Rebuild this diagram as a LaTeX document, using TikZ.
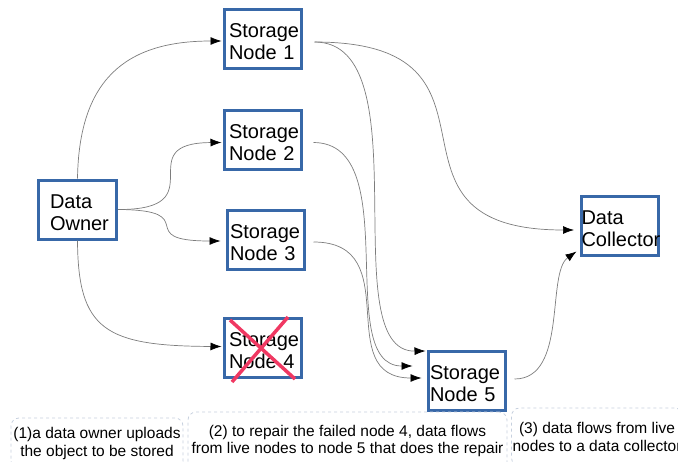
\documentclass[tikz,border=0pt]{standalone}
\usepackage{fontspec}
\setmainfont{Liberation Sans}
\usetikzlibrary{arrows.meta}
\definecolor{boxblue}{RGB}{56,104,168}
\definecolor{crossred}{RGB}{240,56,98}
\definecolor{notegray}{RGB}{198,208,222}
\definecolor{linegray}{RGB}{125,125,125}
\tikzset{
  box/.style={draw=boxblue, line width=3pt, minimum width=77pt, minimum height=59pt,
    inner ysep=0pt, align=left, font=\fontsize{20}{22}\selectfont,
    execute at end node={\par\vspace{-6pt}}},
  flow/.style={draw=linegray, line width=0.7pt, -{Latex[length=11pt,width=8pt,black]}},
  note/.style={draw=notegray, dashed, line width=0.8pt, rounded corners=8pt,
    align=center, font=\fontsize{15.5}{17.5}\selectfont, inner sep=1pt},
  crossline/.style={draw=crossred, line width=3.5pt}
}
\begin{document}
\begin{tikzpicture}[x=1pt,y=-1pt]
\useasboundingbox (0,0) rectangle (678,461);
% boxes
\node[box, inner xsep=11.5pt, text width=55pt] (own) at (77.5,209.5) {Data\\Owner};
\node[box, inner xsep=5pt, text width=67pt] (n1) at (262.5,39) {Storage\\Node 1};
\node[box, inner xsep=5pt, text width=67pt] (n2) at (262.5,139.5) {Storage\\Node 2};
\node[box, inner xsep=3pt, text width=71pt] (n3) at (265.5,240) {Storage\\Node 3};
\node[box, inner xsep=5pt, text width=67pt] (n4) at (262.5,347.5) {Storage\\Node 4};
\node[box, inner xsep=2pt, text width=73pt] (n5) at (466.5,381) {Storage\\Node 5};
\node[box, inner xsep=0pt, text width=77pt] (col) at (620,226) {Data\\Collector};
% failed node cross
\draw[crossline] (230,320) -- (295,379);
\draw[crossline] (288,317) -- (232,382);
% owner uploads
\draw[flow] (own.north) .. controls (79,80) and (125,41) .. ([shift={(-1,2)}]n1.west);
\draw[flow] (own.east) .. controls (218,210) and (127,143) .. ([shift={(-1,3)}]n2.west);
\draw[flow] (own.east) .. controls (205,210) and (130,241) .. ([shift={(-5,1)}]n3.west);
\draw[flow] (own.south) .. controls (78,330) and (105,346) .. ([shift={(-1,-1)}]n4.west);
% repair flows
\draw[flow] ([shift={(12,3)}]n1.east) .. controls (424,42) and (332,352) .. ([shift={(-1,1)}]n5.north west);
\draw[flow] ([shift={(11,3)}]n2.east) .. controls (406,143) and (332,366) .. ([shift={(-14,-15)}]n5.west);
\draw[flow] ([shift={(8,2)}]n3.east) .. controls (408,242) and (330,378) .. ([shift={(-5,-3)}]n5.west);
% data collection
\draw[flow] ([shift={(12,3)}]n1.east) .. controls (530,42) and (358,230) .. ([shift={(-6,4)}]col.west);
\draw[flow] ([shift={(8,-2)}]n5.east) .. controls (568,379) and (546,273) .. ([shift={(-3.5,-5.5)}]col.south west);
% notes
\node[note, minimum width=172pt, minimum height=51pt] (t1) at (97,443.5)
  {(1)a data owner uploads\\the object to be stored};
\node[note, minimum width=319pt, minimum height=58pt] (t2) at (347.5,441)
  {(2) to repair the failed node 4, data flows\\from live nodes to node 5 that does the repair};
\node[note, minimum width=170pt, minimum height=58pt] (t3) at (597,437)
  {(3) data flows from live\\nodes to a data collector};
\end{tikzpicture}
\end{document}
